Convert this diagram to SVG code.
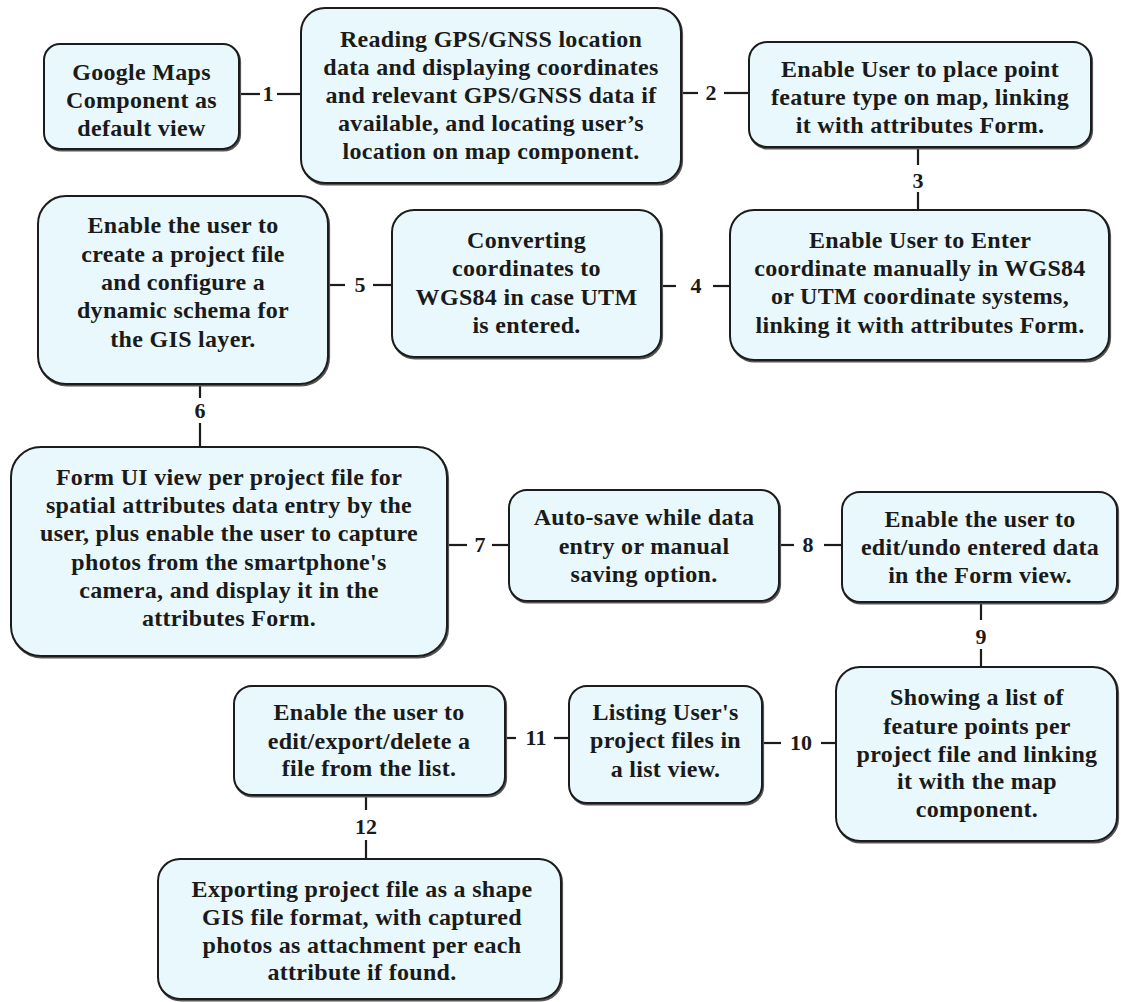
<svg xmlns="http://www.w3.org/2000/svg" width="1121" height="1002" viewBox="0 0 1121 1002">
<style>
.bg{fill:#ffffff}
.sh{fill:none;stroke:#555;stroke-width:2.2}
.box{fill:#e9f8fc;stroke:#1c1c1c;stroke-width:2}
.t{font-family:"Liberation Serif","Times New Roman",serif;font-weight:bold;font-size:24px;letter-spacing:0.3px;fill:#1a1a1a;text-anchor:middle}
.lbl{font-family:"Liberation Serif","Times New Roman",serif;font-weight:bold;font-size:22px;fill:#1a1a1a;text-anchor:middle}
.c{stroke:#1c1c1c;stroke-width:2.2;fill:none}
</style>
<rect class="bg" x="0" y="0" width="1121" height="1002"/>

<g id="connectors">
  <!-- 1 -->
  <line class="c" x1="239" y1="94" x2="260" y2="94"/><line class="c" x1="277" y1="94" x2="301" y2="94"/>
  <text class="lbl" x="268" y="101">1</text>
  <!-- 2 -->
  <line class="c" x1="681" y1="93" x2="698" y2="93"/><line class="c" x1="724" y1="93" x2="749" y2="93"/>
  <text class="lbl" x="711" y="100">2</text>
  <!-- 3 -->
  <line class="c" x1="918" y1="147" x2="918" y2="165"/><line class="c" x1="918" y1="192" x2="918" y2="210"/>
  <text class="lbl" x="918" y="188">3</text>
  <!-- 4 -->
  <line class="c" x1="661" y1="286" x2="676" y2="286"/><line class="c" x1="713" y1="286" x2="730" y2="286"/>
  <text class="lbl" x="696" y="293">4</text>
  <!-- 5 -->
  <line class="c" x1="328" y1="285" x2="345" y2="285"/><line class="c" x1="373" y1="285" x2="392" y2="285"/>
  <text class="lbl" x="360" y="292">5</text>
  <!-- 6 -->
  <line class="c" x1="200" y1="384" x2="200" y2="398"/><line class="c" x1="200" y1="423" x2="200" y2="447"/>
  <text class="lbl" x="200" y="418">6</text>
  <!-- 7 -->
  <line class="c" x1="447" y1="545" x2="467" y2="545"/><line class="c" x1="492" y1="545" x2="509" y2="545"/>
  <text class="lbl" x="480" y="552">7</text>
  <!-- 8 -->
  <line class="c" x1="779" y1="545" x2="794" y2="545"/><line class="c" x1="824" y1="545" x2="842" y2="545"/>
  <text class="lbl" x="808" y="552">8</text>
  <!-- 9 -->
  <line class="c" x1="981" y1="602" x2="981" y2="620"/><line class="c" x1="981" y1="649" x2="981" y2="667"/>
  <text class="lbl" x="981" y="644">9</text>
  <!-- 10 -->
  <line class="c" x1="762" y1="743" x2="781" y2="743"/><line class="c" x1="821" y1="743" x2="836" y2="743"/>
  <text class="lbl" x="801" y="750">10</text>
  <!-- 11 -->
  <line class="c" x1="505" y1="738" x2="516" y2="738"/><line class="c" x1="554" y1="738" x2="569" y2="738"/>
  <text class="lbl" x="536" y="745">11</text>
  <!-- 12 -->
  <line class="c" x1="366" y1="795" x2="366" y2="810"/><line class="c" x1="366" y1="840" x2="366" y2="859"/>
  <text class="lbl" x="366" y="834">12</text>
</g>

<g id="n1">
  <rect class="sh" x="45" y="45.5" width="195" height="105" rx="16"/>
  <rect class="box" x="44" y="44" width="195" height="105" rx="16"/>
  <text class="t"><tspan x="141.5" y="80">Google Maps</tspan><tspan x="141.5" y="108">Component as</tspan><tspan x="141.5" y="136">default view</tspan></text>
</g>

<g id="n2">
  <rect class="sh" x="302" y="9.5" width="380" height="175" rx="24"/>
  <rect class="box" x="301" y="8" width="380" height="175" rx="24"/>
  <text class="t"><tspan x="491" y="47">Reading GPS/GNSS location</tspan><tspan x="491" y="75">data and displaying coordinates</tspan><tspan x="491" y="103">and relevant GPS/GNSS data if</tspan><tspan x="491" y="131">available, and locating user’s</tspan><tspan x="491" y="159">location on map component.</tspan></text>
</g>

<g id="n3">
  <rect class="sh" x="750" y="43.5" width="342" height="105" rx="18"/>
  <rect class="box" x="749" y="42" width="342" height="105" rx="18"/>
  <text class="t"><tspan x="920" y="77">Enable User to place point</tspan><tspan x="920" y="105">feature type on map, linking</tspan><tspan x="920" y="133">it with attributes Form.</tspan></text>
</g>

<g id="n4">
  <rect class="sh" x="731" y="211.5" width="379" height="150" rx="24"/>
  <rect class="box" x="730" y="210" width="379" height="150" rx="24"/>
  <text class="t"><tspan x="920" y="248">Enable User to Enter</tspan><tspan x="920" y="276">coordinate manually in WGS84</tspan><tspan x="920" y="304">or UTM coordinate systems,</tspan><tspan x="920" y="333">linking it with attributes Form.</tspan></text>
</g>

<g id="n5">
  <rect class="sh" x="393" y="211.5" width="269" height="147" rx="22"/>
  <rect class="box" x="392" y="210" width="269" height="147" rx="22"/>
  <text class="t"><tspan x="526.5" y="248">Converting</tspan><tspan x="526.5" y="276">coordinates to</tspan><tspan x="526.5" y="305">WGS84 in case UTM</tspan><tspan x="526.5" y="333">is entered.</tspan></text>
</g>

<g id="n6">
  <rect class="sh" x="39" y="197.5" width="290" height="188" rx="28"/>
  <rect class="box" x="38" y="196" width="290" height="188" rx="28"/>
  <text class="t"><tspan x="183" y="233">Enable the user to</tspan><tspan x="183" y="262">create a project file</tspan><tspan x="183" y="290">and configure a</tspan><tspan x="183" y="318">dynamic schema for</tspan><tspan x="183" y="347">the GIS layer.</tspan></text>
</g>

<g id="n7">
  <rect class="sh" x="12" y="448.5" width="436" height="209" rx="30"/>
  <rect class="box" x="11" y="447" width="436" height="209" rx="30"/>
  <text class="t"><tspan x="229" y="485">Form UI view per project file for</tspan><tspan x="229" y="513">spatial attributes data entry by the</tspan><tspan x="229" y="541">user, plus enable the user to capture</tspan><tspan x="229" y="570">photos from the smartphone's</tspan><tspan x="229" y="598">camera, and display it in the</tspan><tspan x="229" y="626">attributes Form.</tspan></text>
</g>

<g id="n8">
  <rect class="sh" x="510" y="491.5" width="270" height="111" rx="18"/>
  <rect class="box" x="509" y="490" width="270" height="111" rx="18"/>
  <text class="t"><tspan x="644" y="525">Auto-save while data</tspan><tspan x="644" y="554">entry or manual</tspan><tspan x="644" y="582">saving option.</tspan></text>
</g>

<g id="n9">
  <rect class="sh" x="843" y="493.5" width="275" height="110" rx="18"/>
  <rect class="box" x="842" y="492" width="275" height="110" rx="18"/>
  <text class="t"><tspan x="980" y="527">Enable the user to</tspan><tspan x="980" y="555">edit/undo entered data</tspan><tspan x="980" y="583">in the Form view.</tspan></text>
</g>

<g id="n10">
  <rect class="sh" x="837" y="668.5" width="281" height="174" rx="24"/>
  <rect class="box" x="836" y="667" width="281" height="174" rx="24"/>
  <text class="t"><tspan x="977" y="705">Showing a list of</tspan><tspan x="977" y="734">feature points per</tspan><tspan x="977" y="762">project file and linking</tspan><tspan x="977" y="789">it with the map</tspan><tspan x="977" y="817">component.</tspan></text>
</g>

<g id="n11">
  <rect class="sh" x="570" y="687.5" width="193" height="117" rx="18"/>
  <rect class="box" x="569" y="686" width="193" height="117" rx="18"/>
  <text class="t"><tspan x="665.5" y="720">Listing User's</tspan><tspan x="665.5" y="748">project files in</tspan><tspan x="665.5" y="777">a list view.</tspan></text>
</g>

<g id="n12">
  <rect class="sh" x="235" y="687.5" width="271" height="109" rx="18"/>
  <rect class="box" x="234" y="686" width="271" height="109" rx="18"/>
  <text class="t"><tspan x="369" y="720">Enable the user to</tspan><tspan x="369" y="749">edit/export/delete a</tspan><tspan x="369" y="776">file from the list.</tspan></text>
</g>

<g id="n13">
  <rect class="sh" x="159" y="860.5" width="403" height="140" rx="22"/>
  <rect class="box" x="158" y="859" width="403" height="140" rx="22"/>
  <text class="t"><tspan x="362" y="897">Exporting project file as a shape</tspan><tspan x="362" y="925">GIS file format, with captured</tspan><tspan x="362" y="953">photos as attachment per each</tspan><tspan x="362" y="980">attribute if found.</tspan></text>
</g>
</svg>
